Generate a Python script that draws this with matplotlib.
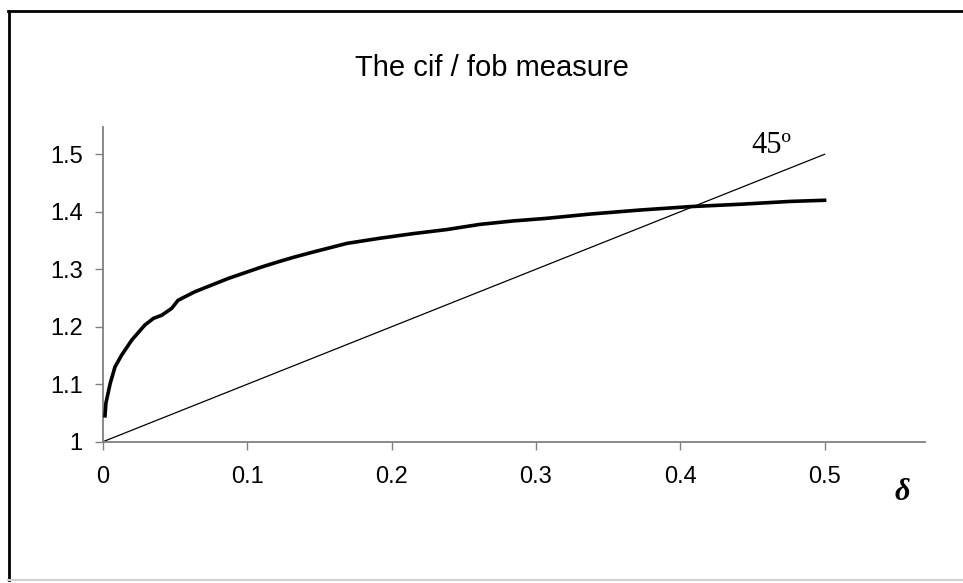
import matplotlib
matplotlib.use("Agg")
import matplotlib.pyplot as plt
from matplotlib.lines import Line2D

# ─── Data ────────────────────────────────────────────────────────────────────
delta = [0.0014, 0.002, 0.005, 0.0083, 0.013, 0.020, 0.029, 0.035, 0.0407,
         0.0476, 0.052, 0.0638, 0.0753, 0.0868, 0.0984, 0.110, 0.1215, 0.1319,
         0.1457, 0.169, 0.192, 0.215, 0.238, 0.261, 0.284, 0.307, 0.3375,
         0.372, 0.407, 0.441, 0.476, 0.500]
cif_fob = [1.045, 1.067, 1.1015, 1.130, 1.151, 1.177, 1.203, 1.2146, 1.220,
           1.232, 1.246, 1.261, 1.2725, 1.284, 1.294, 1.304, 1.313, 1.3207,
           1.330, 1.345, 1.354, 1.362, 1.369, 1.378, 1.384, 1.3885, 1.396,
           1.403, 1.409, 1.413, 1.418, 1.420]
diag_x = [0.0, 0.5]
diag_y = [1.0, 1.5]

x_ticks = [0, 0.1, 0.2, 0.3, 0.4, 0.5]
x_tick_labels = ["0", "0.1", "0.2", "0.3", "0.4", "0.5"]
y_ticks = [1.0, 1.1, 1.2, 1.3, 1.4, 1.5]
y_tick_labels = ["1", "1.1", "1.2", "1.3", "1.4", "1.5"]

SANS = "Liberation Sans"
SERIF = "Liberation Serif"
GREY = "#808080"

W, H = 963, 583
fig = plt.figure(figsize=(W / 100, H / 100), dpi=100, facecolor="white")
ax = fig.add_axes([103 / W, 1 - 441.7 / H, (925 - 103) / W, (441.7 - 126.7) / H])

ax.plot(diag_x, diag_y, color="black", linewidth=0.9, zorder=2)
ax.plot(delta, cif_fob, color="black", linewidth=2.6, zorder=3)

ax.set_xlim(0, 0.5696)
ax.set_ylim(1.0, 1.548)

ax.set_xticks(x_ticks)
ax.set_xticklabels(x_tick_labels, fontfamily=SANS, fontsize=17)
ax.set_yticks(y_ticks)
ax.set_yticklabels(y_tick_labels, fontfamily=SANS, fontsize=17)
ax.tick_params(axis="both", direction="out", length=5.5, width=1.0, color=GREY)
ax.tick_params(axis="x", pad=12)
ax.tick_params(axis="y", pad=9)

for side in ["top", "right"]:
    ax.spines[side].set_visible(False)
for side in ["left", "bottom"]:
    ax.spines[side].set_color(GREY)
    ax.spines[side].set_linewidth(1.3)

# textos
fig.text(491.5 / W, 1 - 67.7 / H, "The cif / fob measure", ha="center", va="center",
         fontfamily=SANS, fontsize=21)
fig.text(771 / W, 1 - 146 / H, "45º", ha="center", va="center",
         fontfamily=SERIF, fontsize=22)
fig.text(902 / W, 1 - 493 / H, "δ", ha="center", va="center",
         fontfamily=SERIF, fontsize=22, fontweight="bold", fontstyle="italic")

# marco de la figura
fig.add_artist(Line2D([8.5 / W, 8.5 / W], [1 - 10.5 / H, 1 - 580 / H],
                      transform=fig.transFigure, color="black", linewidth=2.0))
fig.add_artist(Line2D([7.5 / W, 1.0], [1 - 10.5 / H, 1 - 10.5 / H],
                      transform=fig.transFigure, color="black", linewidth=2.0))
fig.add_artist(Line2D([7.5 / W, 1.0], [1 - 580 / H, 1 - 580 / H],
                      transform=fig.transFigure, color="#d0d0d0", linewidth=1.5))

fig.savefig("out.png", dpi=100, facecolor="white")
